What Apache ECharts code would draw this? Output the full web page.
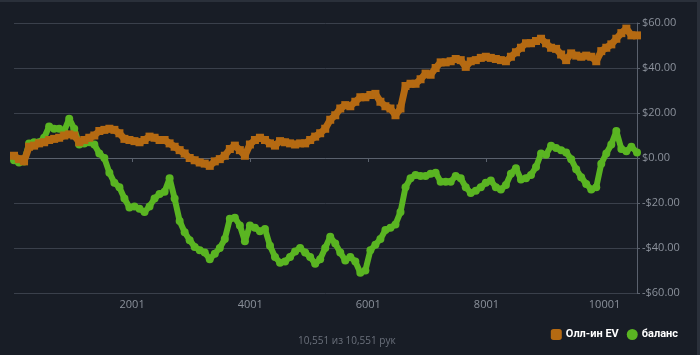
<!DOCTYPE html>
<html>
<head>
<meta charset="utf-8">
<script src="https://cdn.jsdelivr.net/npm/echarts@6/dist/echarts.min.js"></script>
<style>
html,body{margin:0;padding:0;background:#181d26;}
#c{width:700px;height:355px;}
</style>
</head>
<body>
<div id="c"></div>
<script>
var hands = [1,86,171,256,341,426,511,596,681,766,851,936,1021,1106,1191,1276,1361,1446,1531,1616,1701,1786,1871,1956,2041,2126,2211,2296,2381,2466,2551,2636,2721,2806,2891,2976,3061,3146,3231,3316,3401,3486,3571,3656,3741,3826,3911,3996,4081,4166,4251,4336,4421,4506,4591,4676,4761,4846,4931,5016,5101,5186,5271,5356,5441,5526,5611,5696,5781,5866,5951,6036,6121,6206,6291,6376,6461,6546,6631,6716,6801,6886,6971,7056,7141,7226,7311,7396,7481,7566,7651,7736,7821,7906,7991,8076,8161,8246,8331,8416,8501,8586,8671,8756,8841,8926,9011,9096,9181,9266,9351,9436,9521,9606,9691,9776,9861,9946,10031,10116,10201,10286,10371,10456,10551];

var allinEV = [1,-0.5,-1.5,5,5.5,6.5,7,8,8.5,9,10,10.5,10,7,8,9,10,12,12.5,13,12.5,11,8.5,8,7.5,7,8,9.5,9,8,8,6.5,5,3.5,2,0,-1,-2,-2.5,-3.5,-1.5,-0.5,1,4,5.5,3.5,1,6,8,9,8,6.5,5.5,7.5,7,6.5,6,6.5,6.5,8,9.5,11,13,17,19,22,23.5,23,25,27,27,28,28.5,25,23,22,19,22,32,33,33,35,37.5,37,40,42.5,42.5,43,44,43.5,40.5,43,43.5,44.5,45,44.5,44,43.5,43,45,47,49,51,51,52,53,51,49,48.5,46,43.5,46.5,45.5,45,45.5,45,43,47.5,49,50.5,53,55.5,57.5,54.5,54.5];

var balance = [-1,-2,-1.5,6.5,7,7,9,14,13,13,12,17.5,13,6,6.5,7,6,2,0,-6.5,-11,-13,-18,-22,-21.5,-22.5,-24,-21.5,-18,-16,-15,-9,-18,-28,-33,-36.5,-39.5,-41,-42,-45,-42.5,-40,-36,-27,-26.5,-30,-37,-30,-31,-32.5,-31.5,-39,-44,-46.5,-46,-44,-41.5,-40,-42,-44,-47,-45,-40,-35,-38,-42,-45.5,-44,-46,-51,-50,-41,-38.5,-36,-32,-31,-29.5,-24,-13,-9,-7.5,-8,-8,-7,-6.5,-10.5,-10.5,-10.5,-8,-9,-13,-15.5,-14.5,-13,-11,-10,-13,-14,-12,-7,-4.5,-9.5,-9,-7.5,-4,2,1.5,5.5,4.5,3.5,2.5,-0.5,-5,-8.5,-11.5,-14,-13,-2.5,2,6,12,4,3,5,2.5];

var seriesNames = ['Олл-ин EV', 'баланс'];
var footerText = '10,551 из 10,551 рук';

function pairs(xs, ys){ return xs.map(function(x,i){ return [x, ys[i]]; }); }

var chart = echarts.init(document.getElementById('c'), null, {renderer:'canvas'});
chart.setOption({
  backgroundColor: '#181d26',
  animation: false,
  grid: {left: 14, right: 63, top: 23, bottom: 62, containLabel: false},
  xAxis: {
    type: 'value', min: 1, max: 10551, interval: 2000,
    axisLine: {show: true, lineStyle: {color: '#5a616d', width: 1}},
    axisTick: {show: true, length: 4, lineStyle: {color: '#5a616d'}},
    axisLabel: {color: '#8b919b', fontSize: 11, fontFamily: 'Open Sans', margin: 6, showMinLabel: false, showMaxLabel: false,
      formatter: function(v){ return String(v); }},
    splitLine: {show: false}
  },
  yAxis: {
    type: 'value', position: 'right', min: -60, max: 60, interval: 20,
    axisLine: {show: true, lineStyle: {color: '#5a616d', width: 1}},
    axisTick: {show: true, length: 3, lineStyle: {color: '#5a616d'}},
    axisLabel: {color: '#8b919b', fontSize: 11, fontFamily: 'Open Sans', margin: 5,
      formatter: function(v){ return (v < 0 ? '-$' : '$') + Math.abs(v).toFixed(2); }},
    splitLine: {show: true, lineStyle: {color: '#3a404b', width: 1}}
  },
  legend: {
    right: 17, top: 324, itemWidth: 11, itemHeight: 11, itemGap: 8,
    data: [
      {name: seriesNames[0], icon: 'roundRect'},
      {name: seriesNames[1], icon: 'circle'}
    ],
    textStyle: {color: '#ffffff', fontSize: 11, fontWeight: 'bold', fontFamily: 'Roboto', padding: [0,0,0,-1]}
  },
  graphic: [
    {type: 'text', left: 298, top: 336, style: {text: footerText, fill: '#6b717c', fontSize: 10, fontFamily: 'Open Sans'}},
    {type: 'rect', shape: {x: 0, y: 0, width: 700, height: 2}, style: {fill: '#2a303a'}},
    {type: 'rect', shape: {x: 697, y: 0, width: 3, height: 355}, style: {fill: '#2a303a'}}
  ],
  series: [
    {
      name: seriesNames[1], type: 'line', data: pairs(hands, balance), z: 2,
      symbol: 'circle', symbolSize: 8, showSymbol: true, showAllSymbol: true,
      itemStyle: {color: '#5ab522'},
      lineStyle: {color: '#5ab522', width: 6}
    },
    {
      name: seriesNames[0], type: 'line', data: pairs(hands, allinEV), z: 3,
      symbol: 'rect', symbolSize: 8, showSymbol: true, showAllSymbol: true,
      itemStyle: {color: '#b56a12'},
      lineStyle: {color: '#b56a12', width: 7}
    }
  ]
});
</script>
</body>
</html>
